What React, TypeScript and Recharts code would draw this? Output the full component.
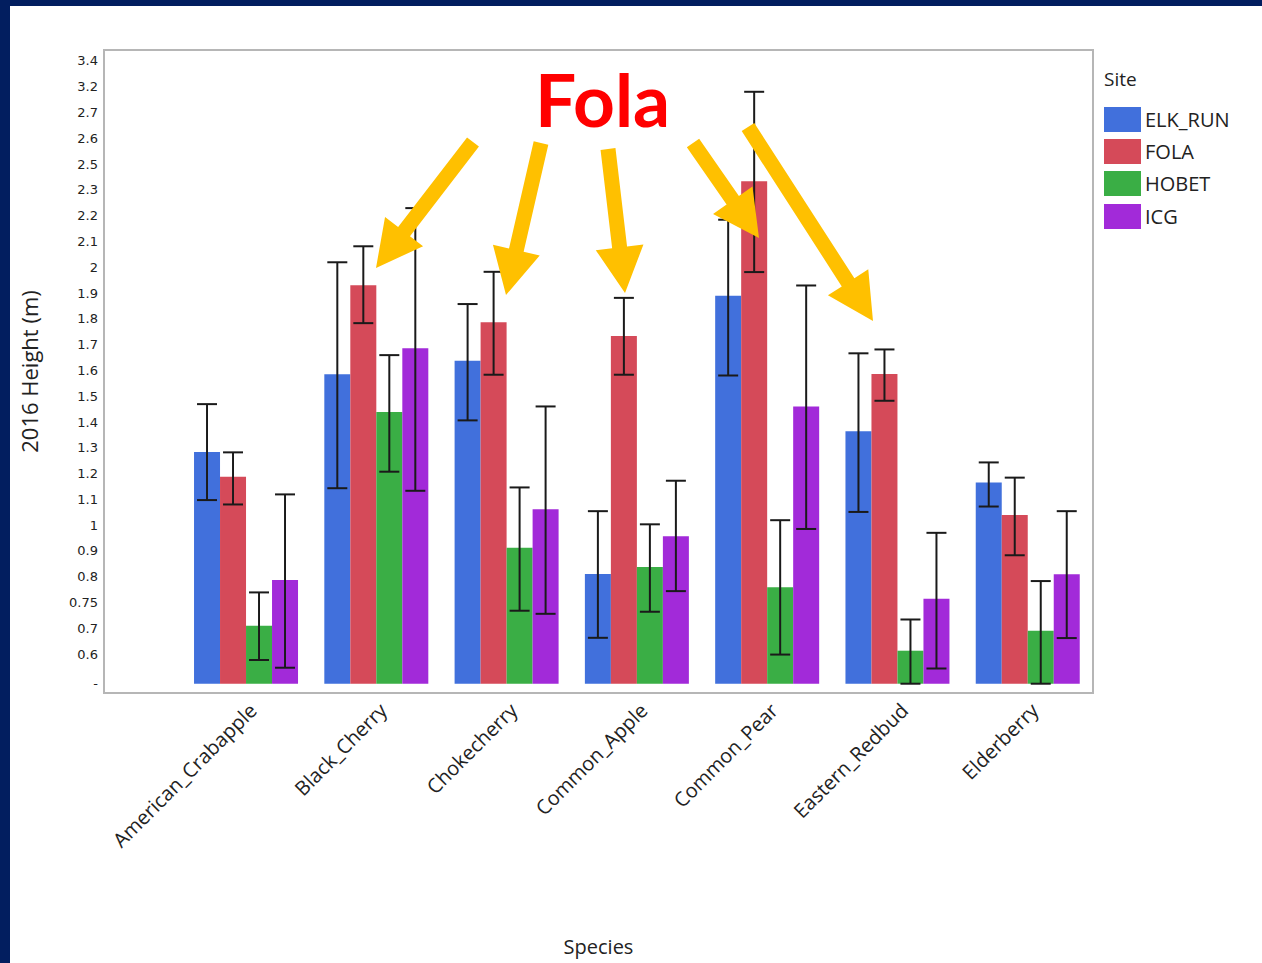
import React from "react";
import { Bar, BarChart, ErrorBar, Legend, XAxis, YAxis } from "recharts";

const species = [
  "American_Crabapple",
  "Black_Cherry",
  "Chokecherry",
  "Common_Apple",
  "Common_Pear",
  "Eastern_Redbud",
  "Elderberry",
];

// bar heights and error bar bounds (metres)
const elkRun = [1.283, 1.585, 1.637, 0.81, 1.889, 1.364, 1.165];
const elkRunLow = [1.097, 1.143, 1.406, 0.563, 1.58, 1.051, 1.072];
const elkRunHigh = [1.469, 2.019, 1.857, 1.054, 2.184, 1.666, 1.243];

const fola = [1.187, 1.93, 1.786, 1.733, 2.333, 1.586, 1.039];
const folaLow = [1.08, 1.783, 1.583, 1.583, 1.981, 1.482, 0.883];
const folaHigh = [1.282, 2.081, 1.982, 1.881, 2.68, 1.681, 1.184];

const hobet = [0.61, 1.438, 0.912, 0.838, 0.759, 0.513, 0.59];
const hobetLow = [0.477, 1.207, 0.668, 0.664, 0.498, 0.385, 0.385];
const hobetHigh = [0.739, 1.659, 1.146, 1.003, 1.019, 0.634, 0.783];

const icg = [0.787, 1.686, 1.061, 0.957, 1.46, 0.714, 0.809];
const icgLow = [0.447, 1.133, 0.656, 0.744, 0.985, 0.444, 0.562];
const icgHigh = [1.119, 2.229, 1.46, 1.172, 1.929, 0.97, 1.054];

const baseValue = 0.385;

// the source axis has odd labels on evenly spaced ticks
const yTicks = [
  0.385, 0.5, 0.6, 0.7, 0.8, 0.9, 1, 1.1, 1.2, 1.3, 1.4, 1.5, 1.6, 1.7, 1.8,
  1.9, 2, 2.1, 2.2, 2.3, 2.4, 2.5, 2.6, 2.7, 2.8,
];
const yTickLabels = [
  "-", "0.6", "0.7", "0.75", "0.8", "0.9", "1", "1.1", "1.2", "1.3", "1.4",
  "1.5", "1.6", "1.7", "1.8", "1.9", "2", "2.1", "2.2", "2.3", "2.5", "2.6",
  "2.7", "3.2", "3.4",
];

const sites = [
  { key: "ELK_RUN", color: "#4170dc", mean: elkRun, low: elkRunLow, high: elkRunHigh },
  { key: "FOLA", color: "#d54a59", mean: fola, low: folaLow, high: folaHigh },
  { key: "HOBET", color: "#3aae45", mean: hobet, low: hobetLow, high: hobetHigh },
  { key: "ICG", color: "#a22ad9", mean: icg, low: icgLow, high: icgHigh },
];

// annotation arrows: tail -> tip
const arrows = [
  [473, 142, 376, 268],
  [541, 143, 506, 295],
  [608, 149, 625, 293],
  [693, 143, 759, 238],
  [748, 127, 873, 321],
];

const rows = species.map((s, i) => {
  const row: Record<string, unknown> = { species: s };
  sites.forEach((site) => {
    row[site.key] = [baseValue, site.mean[i]];
    row[site.key + "_err"] = [site.mean[i] - site.low[i], site.high[i] - site.mean[i]];
  });
  return row;
});

const FONT = "'Open Sans', sans-serif";

function SpeciesTick(props: any) {
  const { x, y, payload } = props;
  return (
    <g transform={`translate(${x + 12},${y + 19})`}>
      <text textAnchor="end" transform="rotate(-45)" fontSize={20} fill="#222" fontFamily={FONT}>
        {payload.value}
      </text>
    </g>
  );
}

function SiteLegend() {
  return (
    <div style={{ fontFamily: FONT, color: "#222" }}>
      <div style={{ fontSize: 19, marginBottom: 11, lineHeight: "26px" }}>Site</div>
      {sites.map((s) => (
        <div key={s.key} style={{ display: "flex", alignItems: "center", height: 32.3 }}>
          <span style={{ width: 37, height: 25, background: s.color, marginRight: 4, display: "inline-block" }} />
          <span style={{ fontSize: 20 }}>{s.key}</span>
        </div>
      ))}
    </div>
  );
}

function arrowPoints(tx: number, ty: number, px: number, py: number) {
  const len = Math.hypot(px - tx, py - ty);
  const ux = (px - tx) / len;
  const uy = (py - ty) / len;
  const nx = -uy;
  const ny = ux;
  const w = 7.5;
  const hw = 24;
  const bx = px - ux * 46;
  const by = py - uy * 46;
  const pts = [
    [tx + nx * w, ty + ny * w],
    [bx + nx * w, by + ny * w],
    [bx + nx * hw, by + ny * hw],
    [px, py],
    [bx - nx * hw, by - ny * hw],
    [bx - nx * w, by - ny * w],
    [tx - nx * w, ty - ny * w],
  ];
  return pts.map((p) => p.join(",")).join(" ");
}

export default function App() {
  return (
    <div style={{ position: "absolute", left: 0, top: 0, width: 1262, height: 963, background: "#021e5f", overflow: "hidden" }}>
      <div style={{ position: "absolute", left: 10, top: 6, width: 1252, height: 957, background: "#fff" }} />
      {/* plot frame */}
      <div
        style={{
          position: "absolute",
          left: 103,
          top: 49,
          width: 991,
          height: 645,
          border: "2px solid #b6b6b6",
          boxSizing: "border-box",
        }}
      />
      <div style={{ position: "absolute", left: 0, top: 0 }}>
        <BarChart
          width={1262}
          height={963}
          data={rows}
          margin={{ top: 50, right: 169, bottom: 0, left: 0 }}
          barCategoryGap="10%"
          barGap={0}
        >
          <XAxis
            dataKey="species"
            height={270}
            padding={{ left: 77, right: 0 }}
            axisLine={false}
            tickLine={false}
            tickSize={0}
            tickMargin={0}
            interval={0}
            tick={<SpeciesTick />}
            label={{ value: "Species", position: "insideBottom", offset: 9, fontSize: 20, fill: "#222", fontFamily: FONT }}
          />
          <YAxis
            width={104}
            domain={[0.349, 2.842]}
            allowDataOverflow
            ticks={yTicks}
            interval={0}
            tickFormatter={(v: number, i: number) => yTickLabels[i] ?? String(v)}
            tickLine={false}
            tickSize={0}
            tickMargin={6}
            axisLine={false}
            tick={{ fontSize: 13, fill: "#222", fontFamily: "'DejaVu Sans', sans-serif" }}
            label={{ value: "2016 Height (m)", angle: -90, position: "center", dx: -22, fontSize: 22, fill: "#222", fontFamily: FONT }}
          />
          <Legend
            layout="horizontal"
            verticalAlign="middle"
            align="center"
            content={<SiteLegend />}
            wrapperStyle={{ left: 1104, top: 66, width: 150, height: 190 }}
          />
          {sites.map((s) => (
            <Bar key={s.key} dataKey={s.key} fill={s.color} isAnimationActive={false}>
              <ErrorBar dataKey={s.key + "_err"} direction="y" width={10} stroke="#1a1a1a" strokeWidth={2} />
            </Bar>
          ))}
        </BarChart>
      </div>
      <svg width={1262} height={963} style={{ position: "absolute", left: 0, top: 0, pointerEvents: "none" }}>
        <text x={535} y={127} fill="#ff0000" fontSize={73} fontWeight={700} fontFamily="Lato, sans-serif">
          Fola
        </text>
        {arrows.map((a, i) => (
          <polygon key={i} points={arrowPoints(a[0], a[1], a[2], a[3])} fill="#ffc000" />
        ))}
      </svg>
    </div>
  );
}
